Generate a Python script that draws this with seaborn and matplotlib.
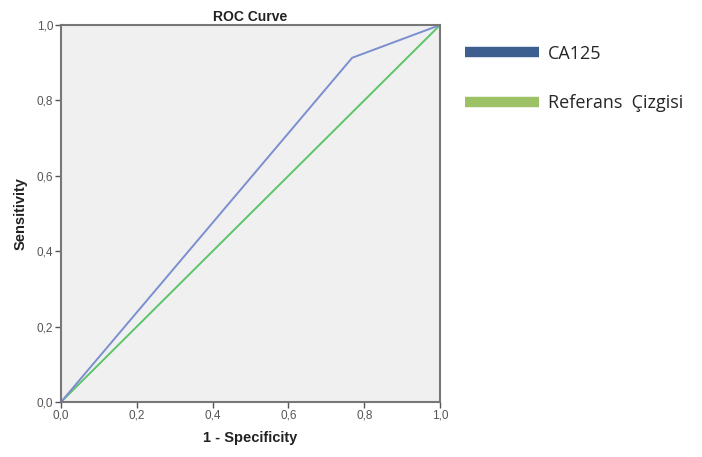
import pandas as pd
import matplotlib.pyplot as plt
from matplotlib.lines import Line2D
import seaborn as sb

# ROC points
fpr = [0.0, 0.768, 1.0]
tpr = [0.0, 0.913, 1.0]
ref_x = [0.0, 1.0]
ref_y = [0.0, 1.0]
ticks = [0.0, 0.2, 0.4, 0.6, 0.8, 1.0]
tick_labels = ['0,0', '0,2', '0,4', '0,6', '0,8', '1,0']
legend_names = ['CA125', 'Referans  Çizgisi']

sb.set_style('white')
plt.rcParams['font.family'] = ['Liberation Sans', 'DejaVu Sans']

fig = plt.figure(figsize=(7.02, 4.57), dpi=100)
ax = fig.add_axes([0.0869, 0.1204, 0.54, 0.8249])
ax.set_facecolor('#f0f0f0')

roc = pd.DataFrame({'x': fpr, 'y': tpr})
ref = pd.DataFrame({'x': ref_x, 'y': ref_y})
sb.lineplot(data=ref, x='x', y='y', ax=ax, color='#5cc46a', linewidth=1.4)
sb.lineplot(data=roc, x='x', y='y', ax=ax, color='#7b8fd0', linewidth=1.4)

ax.set_xlim(0, 1)
ax.set_ylim(0, 1)
ax.set_xticks(ticks)
ax.set_xticklabels(tick_labels)
ax.set_yticks(ticks)
ax.set_yticklabels(tick_labels)
ax.tick_params(axis='both', direction='out', length=4, width=1, color='#555555',
               labelsize=8.5, labelcolor='#555555', pad=1.5,
               bottom=True, left=True)
for s in ax.spines.values():
    s.set_color('#777777')
    s.set_linewidth(1.5)

ax.set_title('ROC Curve', fontsize=10, fontweight='bold', color='#222222', pad=3)
ax.set_xlabel('1 - Specificity', fontsize=10.5, fontweight='bold', color='#222222', labelpad=7)
ax.set_ylabel('Sensitivity', fontsize=10.5, fontweight='bold', color='#222222', labelpad=7)

handles = [Line2D([0], [0], color='#3c5f8f', linewidth=7.5, solid_capstyle='butt'),
           Line2D([0], [0], color='#9cc265', linewidth=7.5, solid_capstyle='butt')]
fig.legend(handles, legend_names, loc='upper left', bbox_to_anchor=(0.639, 0.938),
           frameon=False, handlelength=4.1, handletextpad=0.5, labelspacing=1.75,
           prop={'family': 'Open Sans', 'size': 13})

fig.savefig('out.png', dpi=100)
